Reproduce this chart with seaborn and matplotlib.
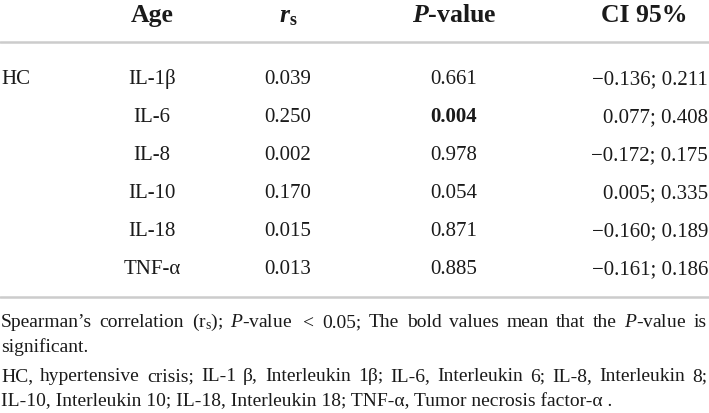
import matplotlib
matplotlib.use("Agg")
import matplotlib.pyplot as plt
import seaborn as sns

# table data
group = "HC"
cytokines = ["IL-1β", "IL-6", "IL-8", "IL-10", "IL-18", "TNF-α"]
rs_values = [0.039, 0.250, 0.002, 0.170, 0.015, 0.013]
p_values = [0.661, 0.004, 0.978, 0.054, 0.871, 0.885]
ci_low = [-0.136, 0.077, -0.172, 0.005, -0.160, -0.161]
ci_high = [0.211, 0.408, 0.175, 0.335, 0.189, 0.186]
headers = ["Age", r"$\mathbfit{r}_\mathbf{s}$", r"$\mathbfit{P}$-value", "CI 95%"]

footnotes = [
    (r"Spearman’s correlation (r$_\mathrm{s}$); $\mathit{P}$-value $<$ 0.05; The bold values "
     r"mean that the $\mathit{P}$-value is", True),
    ("significant.", False),
    ("HC, hypertensive crisis; IL-1 β, Interleukin 1β; IL-6, Interleukin 6; IL-8, Interleukin 8;", True),
    ("IL-10, Interleukin 10; IL-18, Interleukin 18; TNF-α, Tumor necrosis factor-α .", False),
]

sns.set_theme(style="white")
plt.rcParams["font.family"] = ["Liberation Serif", "DejaVu Serif"]
plt.rcParams["mathtext.fontset"] = "custom"
plt.rcParams["mathtext.rm"] = "Liberation Serif"
plt.rcParams["mathtext.it"] = "Liberation Serif:italic"
plt.rcParams["mathtext.bf"] = "Liberation Serif:bold"
plt.rcParams["mathtext.bfit"] = "Liberation Serif:bold:italic"

W, H = 709, 414
fig = plt.figure(figsize=(W / 100, H / 100), dpi=100)
ax = fig.add_axes([0, 0, 1, 1])
ax.set_xlim(0, W)
ax.set_ylim(H, 0)
ax.axis("off")

ink = "#1a1a1a"
body = 15
head = 18.5
foot = 14
col_x = [152, 288, 454]
ci_right = 708
ci_head = 644

# header
for x, h in zip(col_x + [ci_head], headers):
    ax.text(x, 22, h, ha="center", va="baseline", fontsize=head, fontweight="bold", color=ink)
ax.axhline(43, color="#cccccc", lw=1.8)

row_y0, row_dy = 84, 38.0
for i, name in enumerate(cytokines):
    y = row_y0 + i * row_dy
    if i == 0:
        ax.text(1, y, group, ha="left", va="baseline", fontsize=body, color=ink)
    ax.text(col_x[0], y, name, ha="center", va="baseline", fontsize=body, color=ink)
    ax.text(col_x[1], y, f"{rs_values[i]:.3f}", ha="center", va="baseline", fontsize=body, color=ink)
    bold = "bold" if p_values[i] < 0.05 else "normal"
    ax.text(col_x[2], y, f"{p_values[i]:.3f}", ha="center", va="baseline", fontsize=body,
            fontweight=bold, color=ink)
    ci = f"{ci_low[i]:.3f}; {ci_high[i]:.3f}".replace("-", "\u2212")
    ax.text(ci_right, y, ci, ha="right", va="baseline", fontsize=body, color=ink)
ax.axhline(298, color="#cccccc", lw=1.8)

# footnotes, some lines justified to full width
renderer = fig.canvas.get_renderer()
foot_y = [327, 352, 381, 406]
for (line, justify), y in zip(footnotes, foot_y):
    if not justify:
        ax.text(1, y, line, ha="left", va="baseline", fontsize=foot, color=ink)
        continue
    words = line.split(" ")
    # keep math pieces together
    tokens, buf = [], ""
    for w in words:
        buf = w if not buf else buf + " " + w
        if buf.count("$") % 2 == 0:
            tokens.append(buf)
            buf = ""
    texts = [ax.text(0, y, t, ha="left", va="baseline", fontsize=foot, color=ink) for t in tokens]
    widths = [t.get_window_extent(renderer).width for t in texts]
    gap = max((ci_right - 2 - sum(widths)) / (len(texts) - 1), 3)
    x = 1
    for t, w in zip(texts, widths):
        t.set_x(x)
        x += w + gap

fig.savefig("out.png", dpi=100)
